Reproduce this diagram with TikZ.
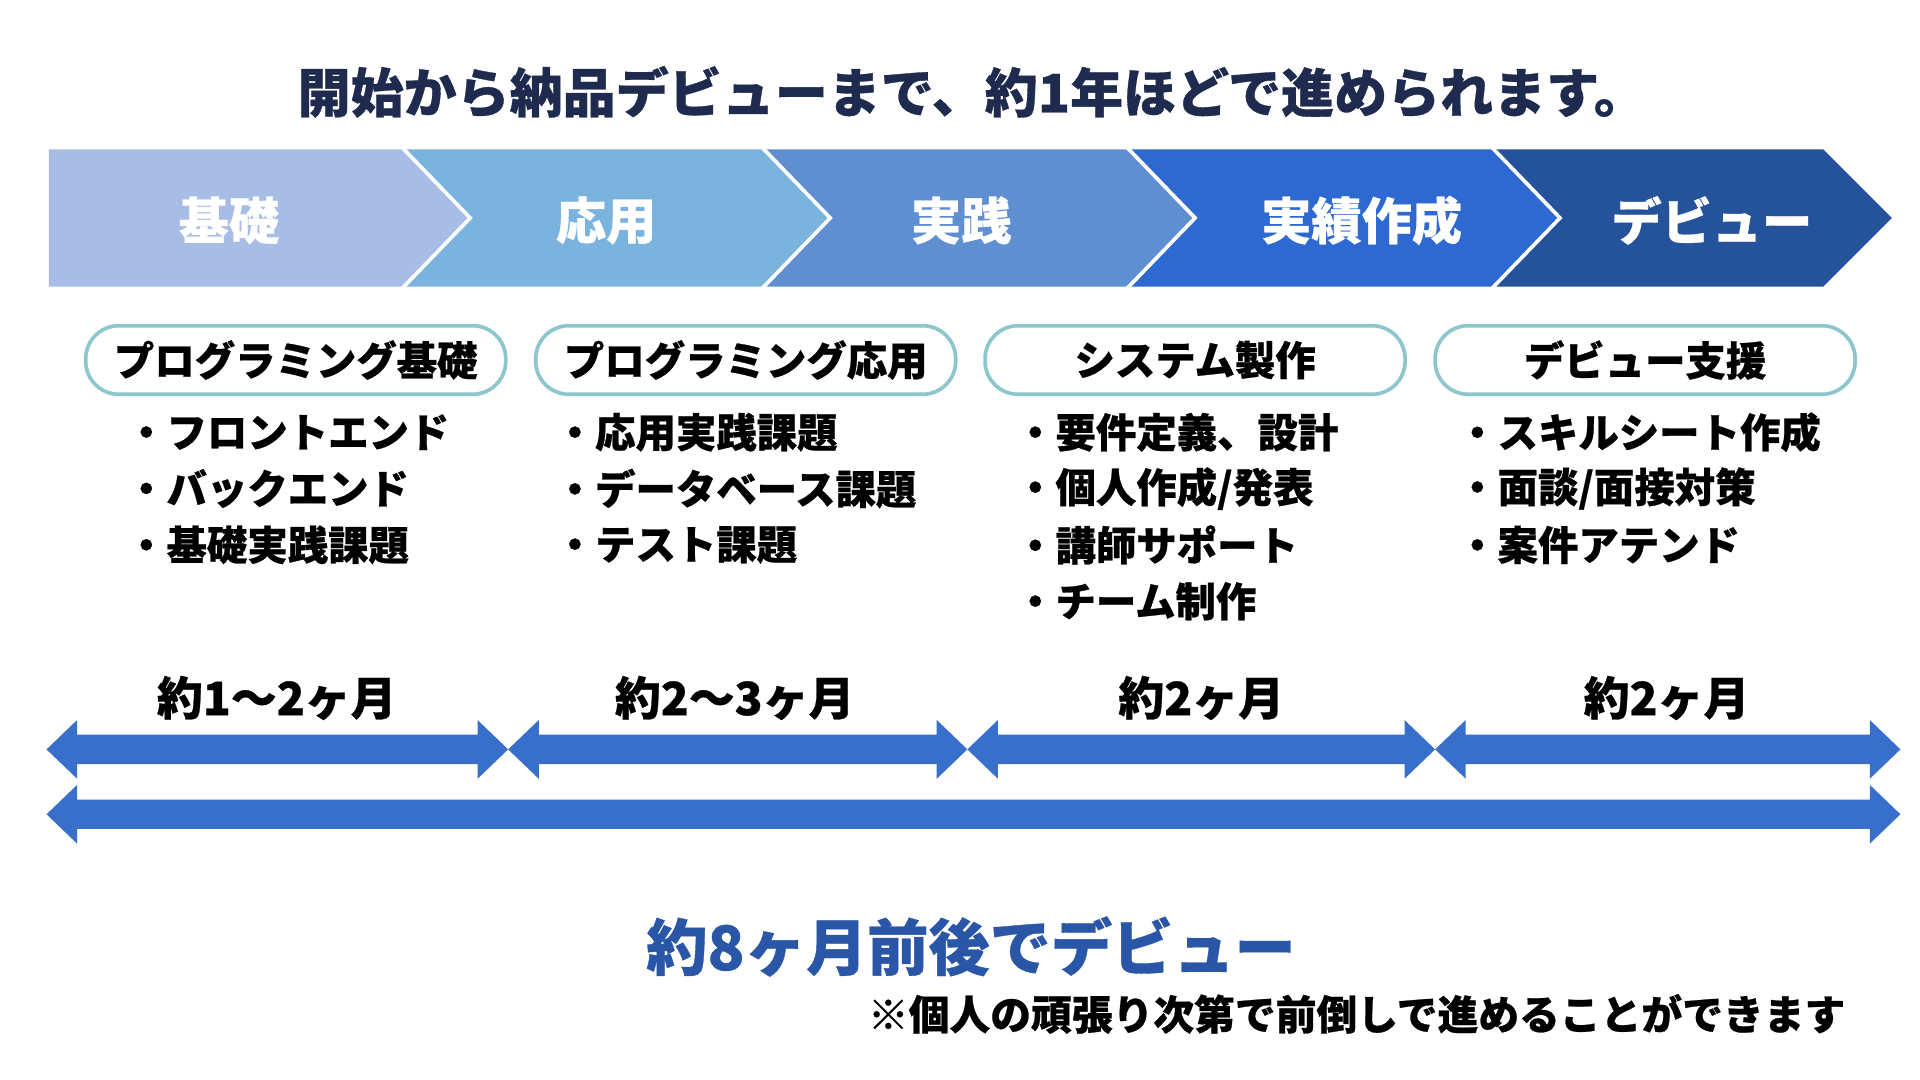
\documentclass[tikz,border=0pt]{standalone}
\usepackage{fontspec}
\setmainfont{Noto Sans CJK JP}[BoldFeatures={FakeBold=0.6}]
\definecolor{titlec}{HTML}{1E2B4E}
\definecolor{cA}{HTML}{A7BDE6}
\definecolor{cB}{HTML}{7AB4DE}
\definecolor{cC}{HTML}{5F8FD1}
\definecolor{cD}{HTML}{2D69D0}
\definecolor{cE}{HTML}{24529B}
\definecolor{pillc}{HTML}{8DC6CC}
\definecolor{arrowc}{HTML}{386FCA}
\definecolor{bluetext}{HTML}{2A56A8}
\newcommand\blockdarrow[3]{%
  \fill[arrowc] (#1,#3) -- ({#1+25},{#3-24}) -- ({#1+25},{#3-12}) -- ({#2-25},{#3-12}) -- ({#2-25},{#3-24}) -- (#2,#3)
     -- ({#2-25},{#3+24}) -- ({#2-25},{#3+12}) -- ({#1+25},{#3+12}) -- ({#1+25},{#3+24}) -- cycle;}
\newcommand\chevshape[3]{%
  \fill[#3] (#1,122) -- (#2,122) -- ({#2+56},178) -- (#2,234) -- (#1,234) -- ({#1+56},178) -- cycle;}
\begin{document}
\begin{tikzpicture}[x=1pt,y=-1pt,
  every node/.style={inner sep=0pt, outer sep=0pt},
  chevlabel/.style={text=white, font=\bfseries\fontsize{41}{41}\selectfont},
  pill/.style={draw=pillc, line width=3pt, fill=white, rounded corners=27pt,
    minimum width=343pt, minimum height=56pt, font=\bfseries\fontsize{33}{33}\selectfont, text=black},
  item/.style={anchor=west, font=\bfseries\fontsize{33}{33}\selectfont, text=black},
  dur/.style={font=\bfseries\fontsize{37.5}{37.5}\selectfont, text=black},
  sep/.style={draw=white, line width=3pt, line join=miter}]
\fill[white] (0,0) rectangle (1568,882);
\useasboundingbox (0,0) rectangle (1568,882);
% title
\node[font=\bfseries\fontsize{43.3}{43.3}\selectfont, text=titlec] (title) at (794,75) {開始から納品デビューまで、約1年ほどで進められます。};
% chevron band
\fill[cA] (40,122) -- (328,122) -- (384,178) -- (328,234) -- (40,234) -- cycle;
\chevshape{328}{622}{cB}
\chevshape{622}{920}{cC}
\chevshape{920}{1218}{cD}
\chevshape{1218}{1489}{cE}
\foreach \r in {328,622,920,1218}{\draw[sep] (\r,120) -- ({\r+56},178) -- (\r,236);}
\node[chevlabel] (s1) at (187,180) {基礎};
\node[chevlabel] (s2) at (495,180) {応用};
\node[chevlabel] (s3) at (785,180) {実践};
\node[chevlabel] (s4) at (1112,180) {実績作成};
\node[chevlabel] (s5) at (1398,180) {デビュー};
% pills
\node[pill] (p1) at (241.5,294) {プログラミング基礎};
\node[pill] (p2) at (609,294) {プログラミング応用};
\node[pill] (p3) at (976,294) {システム製作};
\node[pill] (p4) at (1343.5,294) {デビュー支援};
% items
\node[item] (a1) at (103,353) {・フロントエンド};
\node[item] (a2) at (103,399) {・バックエンド};
\node[item] (a3) at (103,445) {・基礎実践課題};
\node[item] (b1) at (453,353) {・応用実践課題};
\node[item] (b2) at (453,399) {・データベース課題};
\node[item] (b3) at (453,445) {・テスト課題};
\node[item] (c1) at (829,353) {・要件定義、設計};
\node[item] (c2) at (829,399) {・個人作成/発表};
\node[item] (c3) at (829,445) {・講師サポート};
\node[item] (c4) at (829,491) {・チーム制作};
\node[item] (d1) at (1190,353) {・スキルシート作成};
\node[item] (d2) at (1190,399) {・面談/面接対策};
\node[item] (d3) at (1190,445) {・案件アテンド};
% durations
\node[dur] (t1) at (226,570) {約1～2ヶ月};
\node[dur] (t2) at (600,570) {約2～3ヶ月};
\node[dur] (t3) at (981,570) {約2ヶ月};
\node[dur] (t4) at (1361,570) {約2ヶ月};
\blockdarrow{38}{415}{612}
\blockdarrow{415}{790}{612}
\blockdarrow{790}{1172}{612}
\blockdarrow{1172}{1552}{612}
\blockdarrow{38}{1552}{665}
% bottom
\node[font=\bfseries\fontsize{50}{50}\selectfont, text=bluetext] (total) at (793,773) {約8ヶ月前後でデビュー};
\node[anchor=east, font=\bfseries\fontsize{33.3}{33.3}\selectfont, text=black] (note) at (1507,828) {※個人の頑張り次第で前倒しで進めることができます};
\end{tikzpicture}
\end{document}
